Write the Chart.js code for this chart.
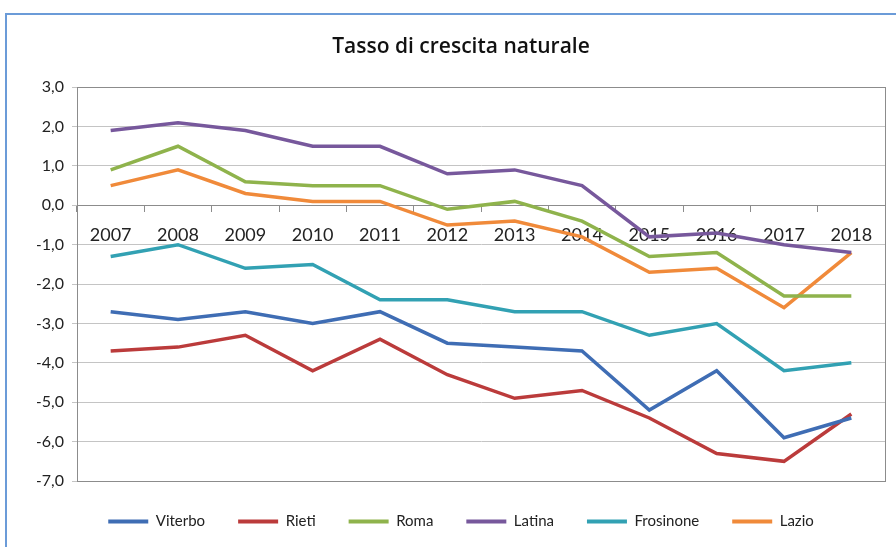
<!DOCTYPE html>
<html>
<head>
<meta charset="utf-8">
<script src="https://cdn.jsdelivr.net/npm/chart.js@4"></script>
<style>
  html, body { margin: 0; padding: 0; background: #fff; overflow: hidden; }
  #frame {
    position: absolute; left: 5px; top: 13px; width: 960px; height: 600px;
    border: 2px solid #6b9bd8; box-sizing: border-box;
  }
  #wrap { position: absolute; left: 0; top: 0; width: 896px; height: 547px; }
</style>
</head>
<body>
<div id="frame"></div>
<div id="wrap"><canvas id="chart" width="896" height="547"></canvas></div>
<script>
// Tasso di crescita naturale, province del Lazio
const years = ['2007', '2008', '2009', '2010', '2011', '2012', '2013', '2014', '2015', '2016', '2017', '2018'];

const viterbo   = [-2.7, -2.9, -2.7, -3.0, -2.7, -3.5, -3.6, -3.7, -5.2, -4.2, -5.9, -5.4];
const rieti     = [-3.7, -3.6, -3.3, -4.2, -3.4, -4.3, -4.9, -4.7, -5.4, -6.3, -6.5, -5.3];
const roma      = [0.9, 1.5, 0.6, 0.5, 0.5, -0.1, 0.1, -0.4, -1.3, -1.2, -2.3, -2.3];
const latina    = [1.9, 2.1, 1.9, 1.5, 1.5, 0.8, 0.9, 0.5, -0.8, -0.7, -1.0, -1.2];
const frosinone = [-1.3, -1.0, -1.6, -1.5, -2.4, -2.4, -2.7, -2.7, -3.3, -3.0, -4.2, -4.0];
const lazio     = [0.5, 0.9, 0.3, 0.1, 0.1, -0.5, -0.4, -0.8, -1.7, -1.6, -2.6, -1.2];

const FONT = 'Lato, "Noto Sans", sans-serif';

function serie(label, data, color) {
    return {
        label,
        data,
        borderColor: color,
        backgroundColor: color,
        borderWidth: 3.5,
        pointRadius: 0,
        tension: 0,
        fill: false
    };
}

// bordo dell'area del grafico, come in Excel
const plotBorder = {
    id: 'plotBorder',
    beforeDatasetsDraw(chart) {
        const { ctx, chartArea: a } = chart;
        ctx.save();
        ctx.strokeStyle = '#8c8c8c';
        ctx.lineWidth = 1;
        ctx.strokeRect(Math.round(a.left) + 0.5, Math.round(a.top) + 0.5,
            Math.round(a.right - a.left), Math.round(a.bottom - a.top));
        ctx.restore();
    }
};

// la legenda usa un padding largo tra le voci, ma occupa meno altezza
const legendHeight = {
    id: 'legendHeight',
    beforeLayout(chart) {
        const lg = chart.legend;
        if (!lg || lg._patched) return;
        const fit = lg.fit;
        lg.fit = function () {
            fit.call(this);
            this.height = 66;
        };
        lg._patched = true;
    }
};

new Chart(document.getElementById('chart'), {
    type: 'line',
    data: {
        labels: years,
        datasets: [
            serie('Viterbo', viterbo, '#3f6db4'),
            serie('Rieti', rieti, '#bb3b3b'),
            serie('Roma', roma, '#8fb34c'),
            serie('Latina', latina, '#77589c'),
            serie('Frosinone', frosinone, '#32a1b3'),
            serie('Lazio', lazio, '#f08a3a')
        ]
    },
    options: {
        responsive: false,
        animation: false,
        layout: { padding: { left: 37, right: 11, top: 0, bottom: 0 } },
        plugins: {
            title: {
                display: true,
                text: 'Tasso di crescita naturale',
                color: '#111',
                font: { family: '"Open Sans", Lato, sans-serif', size: 21, weight: '600', lineHeight: 1.2 },
                padding: { top: 34, bottom: 28 }
            },
            legend: {
                position: 'bottom',
                labels: {
                    color: '#222',
                    font: { family: FONT, size: 15 },
                    boxWidth: 40,
                    boxHeight: 4,
                    padding: 33,
                    generateLabels(chart) {
                        const items = Chart.defaults.plugins.legend.labels.generateLabels(chart);
                        items.forEach(i => { i.lineWidth = 0; i.fillStyle = i.strokeStyle; });
                        return items;
                    }
                }
            },
            tooltip: { enabled: false }
        },
        scales: {
            x: {
                position: { y: 0 },
                offset: true,
                grid: { offset: true, drawOnChartArea: false, tickLength: 6, color: '#8c8c8c' },
                border: { color: '#8c8c8c' },
                ticks: { color: '#222', font: { family: FONT, size: 18 }, padding: 13, maxRotation: 0 }
            },
            y: {
                min: -7,
                max: 3,
                grid: { color: '#c4c4c4', tickLength: 5 },
                border: { color: '#8c8c8c' },
                ticks: {
                    stepSize: 1,
                    color: '#222',
                    font: { family: FONT, size: 16 },
                    padding: 8,
                    callback: v => v.toFixed(1).replace('.', ',')
                },
                afterFit(scale) { scale.width = 40; }
            }
        }
    },
    plugins: [plotBorder, legendHeight]
});
</script>
</body>
</html>
